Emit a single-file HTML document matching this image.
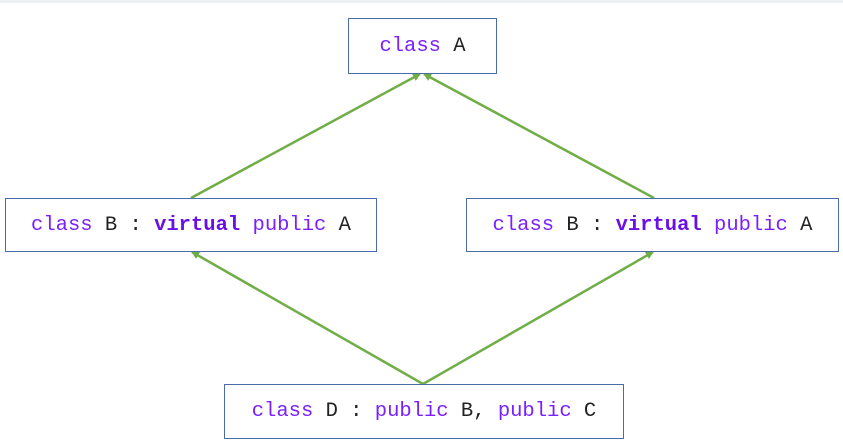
<!DOCTYPE html>
<html><head><meta charset="utf-8"><style>
body{margin:0;width:843px;height:445px;background:#fff;position:relative;overflow:hidden;font-family:"Liberation Mono",monospace;}
.top{position:absolute;left:0;top:0;width:843px;height:3px;background:#eef0f3;}
.b{position:absolute;border:1.5px solid #4a6ca8;box-sizing:border-box;background:#fff;display:flex;align-items:center;justify-content:center;font-size:20.5px;color:#222;white-space:pre;}
.k{color:#7a1fff;}
.kb{color:#6a0fe8;font-weight:bold;}
svg{position:absolute;left:0;top:0;}
</style></head><body>
<div class="top"></div>
<svg width="843" height="445">
<defs><marker id="m" markerWidth="8" markerHeight="8" refX="7" refY="4" orient="auto" markerUnits="userSpaceOnUse"><path d="M0,0 L8,4 L0,8 z" fill="#70ad47"/></marker></defs>
<g stroke="#70ad47" stroke-width="2.5" fill="none">
<line x1="191" y1="198" x2="420" y2="74" marker-end="url(#m)"/>
<line x1="654" y1="198" x2="424" y2="74" marker-end="url(#m)"/>
<line x1="423" y1="384" x2="192" y2="252" marker-end="url(#m)"/>
<line x1="423" y1="384" x2="653" y2="252" marker-end="url(#m)"/>
</g></svg>
<div class="b" style="left:348px;top:18px;width:149px;height:56px;"><span><span class="k">class</span> A</span></div>
<div class="b" style="left:5px;top:198px;width:372px;height:54px;"><span><span class="k">class</span> B : <span class="kb">virtual</span> <span class="k">public</span> A</span></div>
<div class="b" style="left:466px;top:198px;width:373px;height:54px;"><span><span class="k">class</span> B : <span class="kb">virtual</span> <span class="k">public</span> A</span></div>
<div class="b" style="left:224px;top:384px;width:400px;height:55px;"><span><span class="k">class</span> D : <span class="k">public</span> B, <span class="k">public</span> C</span></div>
</body></html>
